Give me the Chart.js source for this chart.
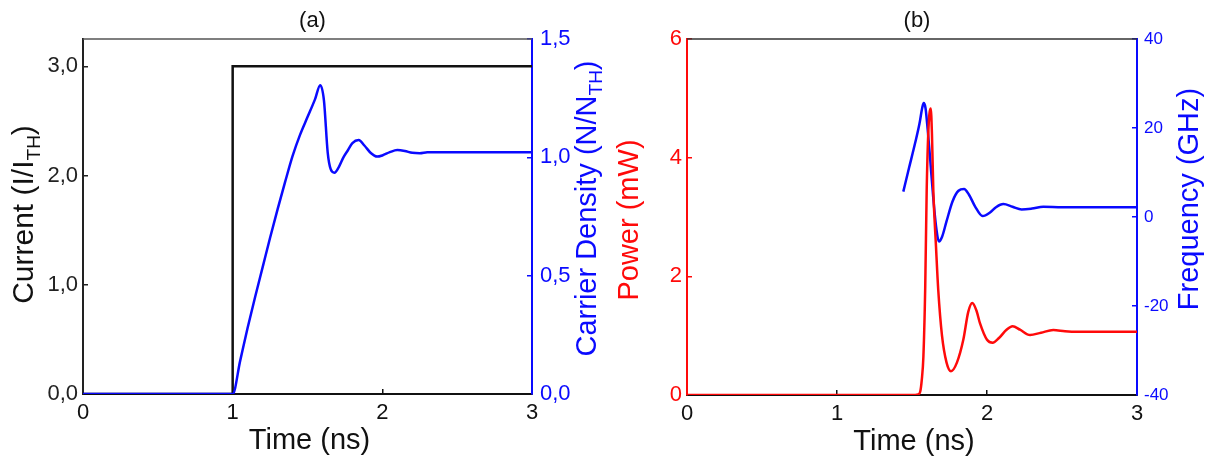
<!DOCTYPE html>
<html>
<head>
<meta charset="utf-8">
<script src="https://cdn.jsdelivr.net/npm/chart.js@4.4.1/dist/chart.umd.min.js"></script>
<style>
html, body { margin: 0; padding: 0; background: #fff; }
#wrap { position: relative; width: 1212px; height: 462px; overflow: hidden; }
.panel { position: absolute; top: 0; height: 462px; }
#panel-a { left: 0; width: 610px; }
#panel-b { left: 610px; width: 602px; }
</style>
</head>
<body>
<div id="wrap">
  <div class="panel" id="panel-a"><canvas id="chartA" width="610" height="462"></canvas></div>
  <div class="panel" id="panel-b"><canvas id="chartB" width="602" height="462"></canvas></div>
</div>
<script>
// panel (a): injection current step and carrier density
const currentTime = [0, 1, 1, 3];
const currentLevel = [0, 0, 3, 3];
const carrierTime = [0, 1.0, 1.05, 1.1, 1.15, 1.2, 1.25, 1.3, 1.35, 1.4, 1.45, 1.5, 1.55, 1.585, 1.61, 1.635, 1.655, 1.68, 1.71, 1.74, 1.77, 1.8, 1.842, 1.88, 1.925, 1.965, 2.0, 2.05, 2.1, 2.15, 2.2, 2.25, 2.3, 2.4, 2.6, 3.0];
const carrierDensity = [0, 0, 0.14, 0.28, 0.41, 0.535, 0.66, 0.78, 0.895, 1.005, 1.095, 1.17, 1.245, 1.305, 1.24, 1.02, 0.95, 0.935, 0.96, 1.0, 1.03, 1.06, 1.073, 1.05, 1.017, 1.003, 1.008, 1.022, 1.031, 1.027, 1.019, 1.017, 1.021, 1.022, 1.022, 1.022];

// panel (b): optical power and frequency chirp
const powerTime = [0, 1.5, 1.54, 1.555, 1.565, 1.576, 1.588, 1.598, 1.61, 1.625, 1.633, 1.642, 1.66, 1.675, 1.7, 1.73, 1.76, 1.8, 1.842, 1.875, 1.902, 1.93, 1.953, 2.0, 2.038, 2.08, 2.13, 2.171, 2.22, 2.287, 2.36, 2.442, 2.52, 2.6, 3.0];
const powerMW = [0, 0, 0.01, 0.06, 0.25, 0.65, 1.8, 3.46, 4.5, 4.83, 4.4, 3.46, 2.5, 1.77, 1.0, 0.55, 0.4, 0.55, 0.93, 1.4, 1.55, 1.42, 1.21, 0.93, 0.88, 0.96, 1.1, 1.16, 1.1, 1.01, 1.05, 1.095, 1.075, 1.066, 1.066];
const freqTime = [1.442, 1.48, 1.52, 1.55, 1.568, 1.578, 1.59, 1.605, 1.62, 1.64, 1.66, 1.68, 1.7, 1.73, 1.77, 1.81, 1.847, 1.88, 1.92, 1.971, 2.02, 2.06, 2.109, 2.17, 2.231, 2.3, 2.375, 2.5, 3.0];
const freqGHz = [5.7, 11, 16.5, 21, 24.5, 25.6, 24.5, 19.5, 13.5, 5, -2, -5.5, -4.5, -1, 3.5, 5.9, 6.3, 5, 2.4, 0.2, 1.0, 2.2, 2.9, 2.3, 1.7, 1.9, 2.3, 2.2, 2.2];

const timeTicks = [0, 1, 2, 3];
const currentTicks = [0, 1, 2, 3];
const carrierTicks = [0, 0.5, 1, 1.5];
const powerTicks = [0, 2, 4, 6];
const freqTicks = [-40, -20, 0, 20, 40];

const FONT = '"Liberation Sans", Arial, Helvetica, sans-serif';
const BLUE = '#0a0aff';
const RED = '#ff0a0a';
const BLACK = '#111';

function pts(xs, ys) { return xs.map((x, i) => ({ x: x, y: ys[i] })); }
function comma(v) { return v.toFixed(1).replace('.', ','); }

// rotated / subscripted axis titles
const richTitles = {
  id: 'richTitles',
  afterDraw(chart, args, opts) {
    const { ctx, chartArea: a } = chart;
    const midX = (a.left + a.right) / 2, midY = (a.top + a.bottom) / 2;
    opts.items.forEach(it => {
      ctx.save();
      ctx.fillStyle = it.color || BLACK;
      ctx.textBaseline = 'alphabetic';
      ctx.textAlign = 'left';
      const subSize = Math.round(it.size * 0.64);
      const parts = it.parts.map(p => ({ text: p[0], sub: !!p[1] }));
      let w = 0;
      parts.forEach(p => {
        ctx.font = (p.sub ? subSize : it.size) + 'px ' + FONT;
        p.w = ctx.measureText(p.text).width;
        w += p.w;
      });
      if (it.pos === 'left' || it.pos === 'right') {
        const x = it.pos === 'left' ? a.left - it.off : a.right + it.off;
        ctx.translate(x, midY + (it.shift || 0));
        ctx.rotate(-Math.PI / 2);
      } else {
        const y = it.pos === 'top' ? a.top - it.off : a.bottom + it.off;
        ctx.translate(midX + (it.shift || 0), y);
      }
      let cx = -w / 2;
      parts.forEach(p => {
        ctx.font = (p.sub ? subSize : it.size) + 'px ' + FONT;
        ctx.fillText(p.text, cx, p.sub ? it.size * 0.22 : 0);
        cx += p.w;
      });
      ctx.restore();
    });
  }
};

const frameTop = {
  id: 'frameTop',
  afterDatasetsDraw(chart, args, opts) {
    const { ctx, chartArea: a } = chart;
    ctx.save();
    ctx.strokeStyle = opts.color;
    ctx.lineWidth = opts.width;
    ctx.beginPath();
    ctx.moveTo(a.left, a.top);
    ctx.lineTo(a.right, a.top);
    ctx.stroke();
    ctx.restore();
  }
};

function yAxis(pos, min, max, tickVals, color, size, width, pad, fmt) {
  return {
    type: 'linear', position: pos, min: min, max: max,
    afterBuildTicks: s => { s.ticks = tickVals.map(v => ({ value: v })); },
    afterFit: s => { s.width = width; },
    border: { display: true, color: color, width: 2 },
    grid: { drawOnChartArea: false, color: color, tickLength: -5, lineWidth: 1.5 },
    ticks: { color: color, padding: pad, font: { family: FONT, size: size }, callback: fmt }
  };
}

function xAxis(height) {
  return {
    type: 'linear', position: 'bottom', min: 0, max: 3,
    afterBuildTicks: s => { s.ticks = timeTicks.map(v => ({ value: v })); },
    afterFit: s => { s.height = height; },
    border: { display: true, color: BLACK, width: 2 },
    grid: { drawOnChartArea: false, color: BLACK, tickLength: -5, lineWidth: 1.5 },
    ticks: { color: BLACK, padding: 11, maxRotation: 0, font: { family: FONT, size: 22 }, callback: v => String(v) }
  };
}

function line(data, color, axis, smooth) {
  return {
    data: data, yAxisID: axis, borderColor: color, borderWidth: 2.5, pointRadius: 0,
    fill: false, tension: 0, cubicInterpolationMode: smooth ? 'monotone' : 'default'
  };
}

new Chart(document.getElementById('chartA'), {
  type: 'line',
  data: {
    datasets: [
      line(pts(carrierTime, carrierDensity), BLUE, 'yR', true),
      line(pts(currentTime, currentLevel), BLACK, 'yL', false)
    ]
  },
  options: {
    responsive: false, animation: false, events: [],
    layout: { padding: { top: 39, left: 0, right: 0, bottom: 0 } },
    scales: {
      x: xAxis(68),
      yL: yAxis('left', 0, 3.25, currentTicks, '#222', 22, 83, 10, comma),
      yR: yAxis('right', 0, 1.5, carrierTicks, BLUE, 22, 78, 13, comma)
    },
    plugins: {
      legend: { display: false }, tooltip: { enabled: false }, title: { display: false },
      frameTop: { color: '#555', width: 1.5 },
      richTitles: { items: [
        { pos: 'top', off: 12, shift: 5, size: 22, parts: [['(a)']] },
        { pos: 'bottom', off: 55, shift: 2, size: 29, parts: [['Time (ns)']] },
        { pos: 'left', off: 50, shift: -2, size: 30, parts: [['Current (I/I'], ['TH', 1], [')']] },
        { pos: 'right', off: 64, shift: -8, size: 29, color: BLUE, parts: [['Carrier Density (N/N'], ['TH', 1], [')']] }
      ] }
    }
  },
  plugins: [richTitles, frameTop]
});

new Chart(document.getElementById('chartB'), {
  type: 'line',
  data: {
    datasets: [
      line(pts(powerTime, powerMW), RED, 'yL', true),
      line(pts(freqTime, freqGHz), BLUE, 'yR', true)
    ]
  },
  options: {
    responsive: false, animation: false, events: [],
    layout: { padding: { top: 39, left: 0, right: 0, bottom: 0 } },
    scales: {
      x: xAxis(67),
      yL: yAxis('left', 0, 6, powerTicks, RED, 22, 77, 10, v => String(v)),
      yR: yAxis('right', -40, 40, freqTicks, BLUE, 17, 75, 12, v => String(v))
    },
    plugins: {
      legend: { display: false }, tooltip: { enabled: false }, title: { display: false },
      frameTop: { color: '#333', width: 1.5 },
      richTitles: { items: [
        { pos: 'top', off: 12, shift: 5, size: 22, parts: [['(b)']] },
        { pos: 'bottom', off: 55, shift: 2, size: 29, parts: [['Time (ns)']] },
        { pos: 'left', off: 49, shift: 3, size: 29, color: RED, parts: [['Power (mW)']] },
        { pos: 'right', off: 61, shift: -18, size: 29, color: BLUE, parts: [['Frequency (GHz)']] }
      ] }
    }
  },
  plugins: [richTitles, frameTop]
});
</script>
</body>
</html>
